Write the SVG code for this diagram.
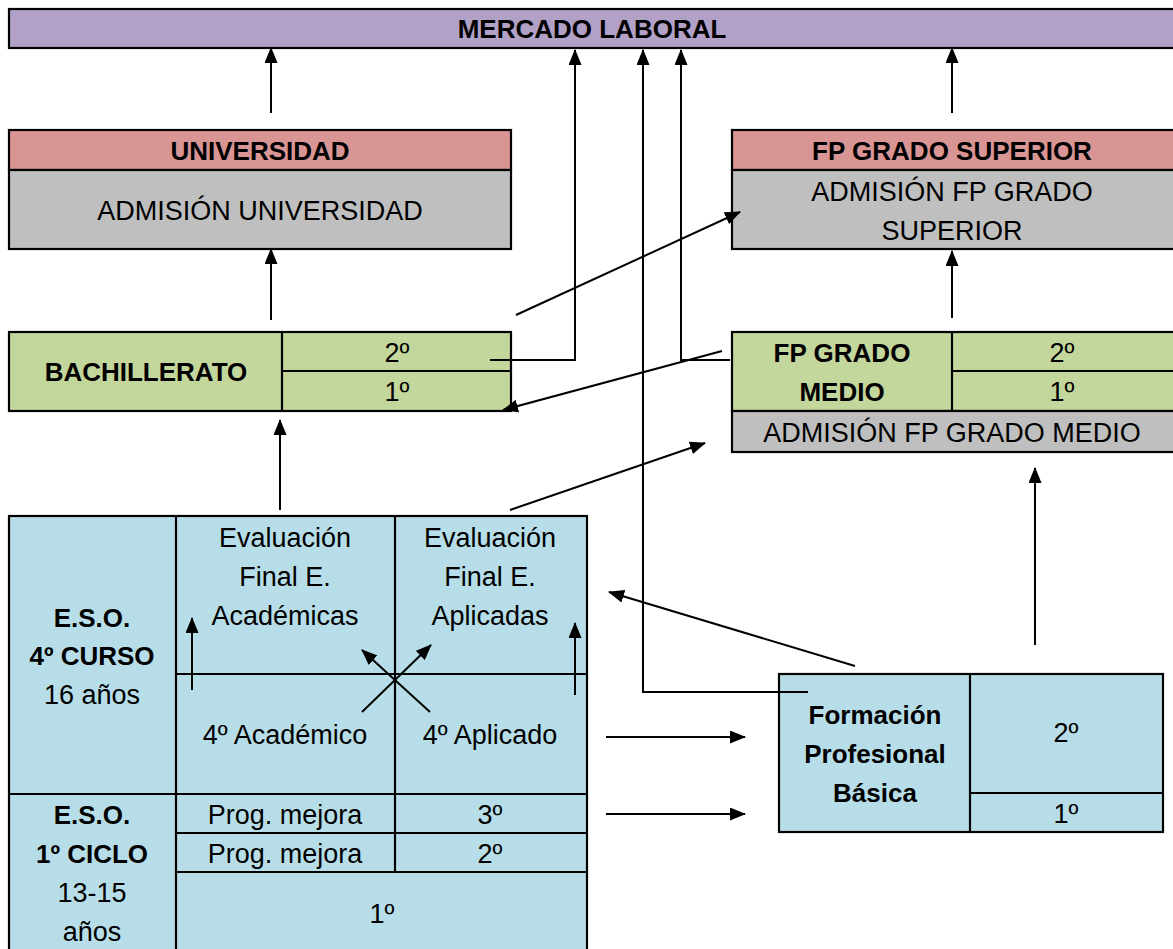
<svg xmlns="http://www.w3.org/2000/svg" width="1173" height="949" viewBox="0 0 1173 949">
<defs>
<marker id="ah" markerUnits="userSpaceOnUse" markerWidth="16" markerHeight="13" refX="15" refY="6.5" orient="auto">
<path d="M0,0 L16,6.5 L0,13 z" fill="#000"/>
</marker>
<style>
.b{stroke:#000;stroke-width:2.2}
.ln{stroke:#000;stroke-width:2;fill:none}
.ar{stroke:#000;stroke-width:2;fill:none;marker-end:url(#ah)}
text{font-family:"Liberation Sans",Arial,sans-serif;font-size:27px;fill:#000;text-anchor:middle}
.t{font-weight:bold;font-size:26px}
.purple{fill:#B2A1C7}.pink{fill:#D99594}.gray{fill:#BFBFBF}.green{fill:#C3D69B}.blue{fill:#B7DEE8}
</style>
</defs>
<rect width="1173" height="949" fill="#fff"/>

<g id="mercado">
<rect class="b purple" x="9" y="9" width="1175" height="39"/>
<text class="t" x="592" y="38">MERCADO LABORAL</text>
</g>

<g id="universidad">
<rect class="b pink" x="9" y="130" width="502" height="40"/>
<rect class="b gray" x="9" y="170" width="502" height="79"/>
<text class="t" x="260" y="160">UNIVERSIDAD</text>
<text x="260" y="220">ADMISIÓN UNIVERSIDAD</text>
</g>

<g id="fp-superior">
<rect class="b pink" x="732" y="130" width="452" height="40"/>
<rect class="b gray" x="732" y="170" width="452" height="79"/>
<text class="t" x="952" y="160">FP GRADO SUPERIOR</text>
<text x="952" y="201">ADMISIÓN FP GRADO</text>
<text x="952" y="240">SUPERIOR</text>
</g>

<g id="bachillerato">
<rect class="b green" x="9" y="332" width="502" height="79"/>
<line class="b" x1="282" y1="332" x2="282" y2="411"/>
<line class="b" x1="282" y1="371" x2="511" y2="371"/>
<text class="t" x="146" y="381">BACHILLERATO</text>
<text x="397" y="362">2º</text>
<text x="397" y="401">1º</text>
</g>

<g id="fp-medio">
<rect class="b green" x="732" y="332" width="452" height="79"/>
<rect class="b gray" x="732" y="411" width="452" height="41"/>
<line class="b" x1="952" y1="332" x2="952" y2="411"/>
<line class="b" x1="952" y1="371" x2="1184" y2="371"/>
<text class="t" x="842" y="362">FP GRADO</text>
<text class="t" x="842" y="401">MEDIO</text>
<text x="1062" y="362">2º</text>
<text x="1062" y="401">1º</text>
<text x="952" y="442">ADMISIÓN FP GRADO MEDIO</text>
</g>

<g id="eso">
<rect class="b blue" x="9" y="516" width="578" height="440"/>
<line class="b" x1="176" y1="516" x2="176" y2="956"/>
<line class="b" x1="395" y1="516" x2="395" y2="872"/>
<line class="b" x1="176" y1="674" x2="587" y2="674"/>
<line class="b" x1="9" y1="794" x2="587" y2="794"/>
<line class="b" x1="176" y1="833" x2="587" y2="833"/>
<line class="b" x1="176" y1="872" x2="587" y2="872"/>
<text class="t" x="92" y="627">E.S.O.</text>
<text class="t" x="92" y="665">4º CURSO</text>
<text x="92" y="704">16 años</text>
<text x="285" y="547">Evaluación</text>
<text x="285" y="586">Final E.</text>
<text x="285" y="625">Académicas</text>
<text x="490" y="547">Evaluación</text>
<text x="490" y="586">Final E.</text>
<text x="490" y="625">Aplicadas</text>
<text x="285" y="744">4º Académico</text>
<text x="490" y="744">4º Aplicado</text>
<text class="t" x="92" y="824">E.S.O.</text>
<text class="t" x="92" y="863">1º CICLO</text>
<text x="92" y="902">13-15</text>
<text x="92" y="941">años</text>
<text x="285" y="824">Prog. mejora</text>
<text x="490" y="824">3º</text>
<text x="285" y="863">Prog. mejora</text>
<text x="490" y="863">2º</text>
<text x="382" y="923">1º</text>
</g>

<g id="fpb">
<rect class="b blue" x="779" y="674" width="384" height="158"/>
<line class="b" x1="970" y1="674" x2="970" y2="832"/>
<line class="b" x1="970" y1="793" x2="1163" y2="793"/>
<text class="t" x="875" y="724">Formación</text>
<text class="t" x="875" y="763">Profesional</text>
<text class="t" x="875" y="802">Básica</text>
<text x="1066" y="742">2º</text>
<text x="1066" y="823">1º</text>
</g>

<g id="connectors">
<line class="ar" x1="271" y1="113" x2="271" y2="48"/>
<line class="ar" x1="952" y1="113" x2="952" y2="48"/>
<polyline class="ar" points="490,360 575,360 575,50"/>
<polyline class="ar" points="730,360 681,360 681,50"/>
<polyline class="ar" points="808,692 643,692 643,50"/>
<line class="ar" x1="271" y1="320" x2="271" y2="249"/>
<line class="ar" x1="952" y1="318" x2="952" y2="251"/>
<line class="ar" x1="516" y1="315" x2="740" y2="212"/>
<line class="ar" x1="722" y1="351" x2="503" y2="410"/>
<line class="ar" x1="280" y1="510" x2="280" y2="420"/>
<line class="ar" x1="510" y1="510" x2="705" y2="443"/>
<line class="ar" x1="1035" y1="645" x2="1035" y2="468"/>
<line class="ar" x1="855" y1="666" x2="609" y2="592"/>
<line class="ar" x1="192" y1="690" x2="192" y2="618"/>
<line class="ar" x1="575" y1="695" x2="575" y2="623"/>
<line class="ar" x1="362" y1="712" x2="431" y2="645"/>
<line class="ar" x1="430" y1="712" x2="362" y2="650"/>
<line class="ar" x1="606" y1="737" x2="745" y2="737"/>
<line class="ar" x1="606" y1="814" x2="745" y2="814"/>
</g>
</svg>
